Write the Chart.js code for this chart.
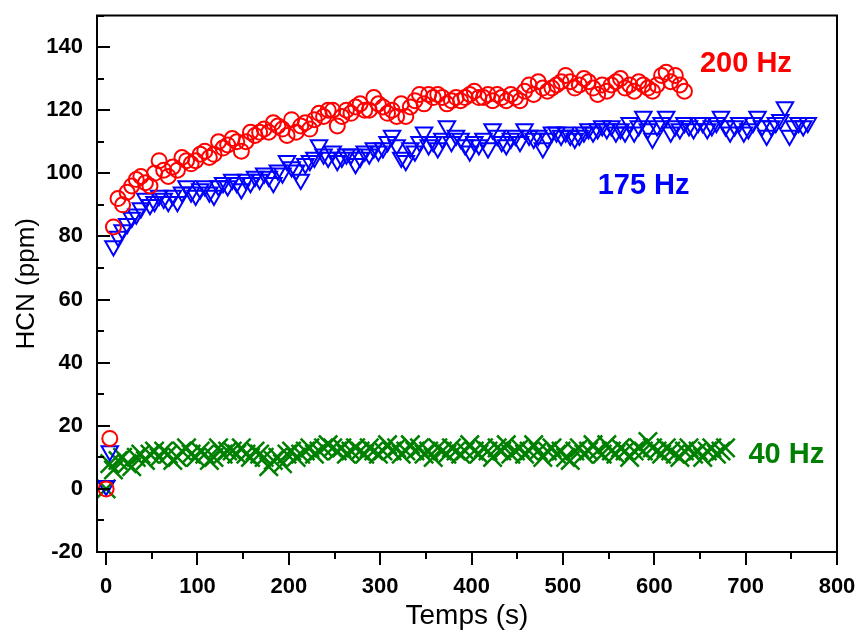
<!DOCTYPE html>
<html>
<head>
<meta charset="utf-8">
<script src="https://cdn.jsdelivr.net/npm/chart.js@4.4.1/dist/chart.umd.min.js"></script>
<style>
  html, body { margin: 0; padding: 0; background: #fff; }
  #wrap { width: 860px; height: 633px; }
</style>
</head>
<body>
<div id="wrap"><canvas id="hcnChart" width="860" height="633"></canvas></div>
<script>
// temps de mesure (s), commun aux trois séries
var temps = [0, 4, 8, 13, 18, 23, 28, 33, 38, 43, 48, 53, 58, 63, 68, 73, 78, 83, 88, 93,
  98, 103, 108, 113, 118, 123, 128, 133, 138, 143, 148, 153, 158, 163, 168, 173, 178, 183, 188, 193,
  198, 203, 208, 213, 218, 223, 228, 233, 238, 243, 248, 253, 258, 263, 268, 273, 278, 283, 288, 293,
  298, 303, 308, 313, 318, 323, 328, 333, 338, 343, 348, 353, 358, 363, 368, 373, 378, 383, 388, 393,
  398, 403, 408, 413, 418, 423, 428, 433, 438, 443, 448, 453, 458, 463, 468, 473, 478, 483, 488, 493,
  498, 503, 508, 513, 518, 523, 528, 533, 538, 543, 548, 553, 558, 563, 568, 573, 578, 583, 588, 593,
  598, 603, 608, 613, 618, 623, 628, 633, 638, 643, 648, 653, 658, 663, 668, 673, 678, 683, 688, 693,
  698, 703, 708, 713, 718, 723, 728, 733, 738, 743, 748, 753, 758, 763, 768];

var hcn200 = [0, 16, 83, 92, 90, 94, 96, 98, 99, 97,
  96, 100, 104, 101, 99, 102, 101, 105, 104, 103,
  104, 106, 107, 105, 106, 110, 108, 109, 111, 110,
  107, 110, 113, 112, 113, 114, 113, 116, 115, 114,
  112, 117, 113, 115, 116, 114, 117, 119, 118, 120,
  120, 115, 118, 120, 119, 121, 122, 120, 120, 124,
  122, 121, 119, 120, 118, 122, 118, 121, 123, 125,
  122, 125, 124, 125, 124, 122, 123, 124, 123, 124,
  125, 126, 124, 124, 125, 123, 125, 124, 123, 125,
  124, 123, 126, 128, 125, 129, 127, 126, 127, 128,
  129, 131, 129, 127, 128, 130, 129, 127, 125, 128,
  126, 128, 129, 130, 127, 128, 126, 129, 128, 127,
  126, 128, 131, 132, 129, 131, 128, 126];

var hcn175 = [1, 12, 77, 80, 82, 84, 86, 87, 89, 92,
  90, 91, 93, 92, 91, 93, 91, 94, 96, 94,
  93, 95, 96, 94, 93, 96, 97, 96, 98, 97,
  95, 98, 97, 99, 98, 100, 99, 97, 101, 100,
  104, 102, 101, 98, 103, 104, 105, 109, 106, 105,
  107, 104, 105, 106, 106, 103, 105, 107, 106, 108,
  107, 108, 110, 112, 109, 105, 104, 108, 107, 110,
  113, 109, 110, 108, 111, 115, 110, 112, 111, 109,
  107, 110, 109, 111, 108, 114, 112, 110, 109, 111,
  112, 110, 114, 112, 111, 112, 108, 111, 113, 113,
  112, 113, 112, 111, 112, 113, 114, 113, 114, 115,
  114, 115, 113, 114, 113, 116, 113, 115, 118, 114,
  111, 115, 116, 118, 113, 115, 114, 116, 115, 114,
  116, 116, 114, 115, 116, 118, 115, 113, 115, 116,
  113, 114, 116, 118, 115, 112, 115, 116, 117, 121,
  112, 115, 116, 115, 116];

var hcn40 = [0, 8, 6, 9, 10, 8, 7, 10, 11, 9,
  11, 12, 10, 12, 11, 9, 10, 12, 13, 11,
  10, 12, 11, 9, 10, 13, 11, 12, 12, 11,
  13, 11, 10, 12, 11, 10, 7, 9, 10, 8,
  11, 12, 10, 11, 12, 13, 11, 12, 13, 14,
  13, 12, 13, 11, 12, 13, 12, 11, 13, 12,
  11, 12, 14, 12, 13, 11, 12, 14, 12, 13,
  11, 12, 10, 13, 12, 11, 13, 12, 11, 12,
  14, 12, 11, 13, 12, 10, 13, 12, 14, 11,
  12, 13, 11, 12, 14, 12, 10, 12, 13, 11,
  12, 10, 9, 12, 13, 11, 12, 14, 12, 11,
  14, 12, 11, 13, 12, 10, 12, 13, 12, 15,
  13, 12, 11, 13, 12, 11, 10, 12, 13, 11,
  12, 10, 12, 13, 11, 12, 13];

var seriesNames = ['200 Hz', '175 Hz', '40 Hz'];
var xTicks = [0, 100, 200, 300, 400, 500, 600, 700, 800];
var yTicks = [-20, 0, 20, 40, 60, 80, 100, 120, 140];

function toPoints(vals) {
    return vals.map(function(v, i) { return { x: temps[i], y: v }; });
}

var fontFamily = '"Liberation Sans", Arial, sans-serif';

// étiquettes de série, cadre et graduations dessinés après les points
var decor = {
    id: 'decor',
    afterDraw: function(chart) {
        var ctx = chart.ctx;
        var a = chart.chartArea;
        var x = chart.scales.x, y = chart.scales.y;
        ctx.save();
        ctx.strokeStyle = '#000';
        ctx.lineWidth = 2;
        ctx.strokeRect(a.left, a.top, a.right - a.left, a.bottom - a.top);

        ctx.beginPath();
        for (var i = 0; i < yTicks.length; i++) {
            var py = Math.round(y.getPixelForValue(yTicks[i]));
            ctx.moveTo(a.left, py); ctx.lineTo(a.left + 13, py);
            var pm = Math.round(y.getPixelForValue(yTicks[i] + 10));
            ctx.moveTo(a.left, pm); ctx.lineTo(a.left + 7, pm);
        }
        for (var j = 0; j < xTicks.length; j++) {
            var px = Math.round(x.getPixelForValue(xTicks[j]));
            ctx.moveTo(px, a.bottom); ctx.lineTo(px, a.bottom + 13);
            if (j < xTicks.length - 1) {
                var pn = Math.round(x.getPixelForValue(xTicks[j] + 50));
                ctx.moveTo(pn, a.bottom); ctx.lineTo(pn, a.bottom + 7);
            }
        }
        ctx.stroke();

        ctx.font = 'bold 29px ' + fontFamily;
        ctx.textBaseline = 'middle';
        ctx.textAlign = 'left';
        ctx.fillStyle = '#ff0000';
        ctx.fillText(seriesNames[0], x.getPixelForValue(650), y.getPixelForValue(134.5));
        ctx.fillStyle = '#0000ff';
        ctx.fillText(seriesNames[1], x.getPixelForValue(538), y.getPixelForValue(96));
        ctx.fillStyle = '#008000';
        ctx.fillText(seriesNames[2], x.getPixelForValue(703), y.getPixelForValue(10.8));
        ctx.restore();
    }
};

var ctx = document.getElementById('hcnChart').getContext('2d');
var hcnChart = new Chart(ctx, {
    type: 'scatter',
    data: {
        datasets: [{
            label: seriesNames[0],
            data: toPoints(hcn200),
            pointStyle: 'circle',
            pointRadius: 7.5,
            pointBorderWidth: 2,
            borderColor: '#ff0000',
            backgroundColor: 'rgba(0,0,0,0)'
        }, {
            label: seriesNames[1],
            data: toPoints(hcn175),
            pointStyle: 'triangle',
            pointRotation: 180,
            pointRadius: 9.5,
            pointBorderWidth: 2,
            borderColor: '#0000ff',
            backgroundColor: 'rgba(0,0,0,0)'
        }, {
            label: seriesNames[2],
            data: toPoints(hcn40),
            pointStyle: 'crossRot',
            pointRadius: 13,
            pointBorderWidth: 2.5,
            borderColor: '#008000',
            backgroundColor: '#008000'
        }]
    },
    options: {
        responsive: false,
        animation: false,
        devicePixelRatio: 1,
        layout: {
            padding: { top: 13, right: 23, left: 0, bottom: 0 }
        },
        plugins: {
            legend: { display: false },
            tooltip: { enabled: false }
        },
        scales: {
            x: {
                type: 'linear',
                min: -10,
                max: 800,
                afterFit: function(scale) {
                    scale.height = 81;
                    scale.paddingLeft = 0;
                    scale.paddingRight = 0;
                },
                afterBuildTicks: function(scale) {
                    scale.ticks = xTicks.map(function(v) { return { value: v }; });
                },
                grid: { display: false, drawTicks: false },
                border: { display: false },
                ticks: {
                    color: '#000',
                    padding: 22,
                    maxRotation: 0,
                    font: { family: fontFamily, size: 22, weight: 'bold' }
                },
                title: {
                    display: true,
                    text: 'Temps (s)',
                    color: '#000',
                    font: { family: fontFamily, size: 28 },
                    padding: { top: 0, bottom: 0 }
                }
            },
            y: {
                type: 'linear',
                min: -20,
                max: 150,
                afterFit: function(scale) {
                    scale.width = 97;
                    scale.paddingTop = 0;
                    scale.paddingBottom = 0;
                },
                afterBuildTicks: function(scale) {
                    scale.ticks = yTicks.map(function(v) { return { value: v }; });
                },
                grid: { display: false, drawTicks: false },
                border: { display: false },
                ticks: {
                    color: '#000',
                    padding: 14,
                    font: { family: fontFamily, size: 22, weight: 'bold' }
                },
                title: {
                    display: true,
                    text: 'HCN (ppm)',
                    color: '#000',
                    font: { family: fontFamily, size: 26 },
                    padding: { top: 11, bottom: 0 }
                }
            }
        }
    },
    plugins: [decor]
});
</script>
</body>
</html>
